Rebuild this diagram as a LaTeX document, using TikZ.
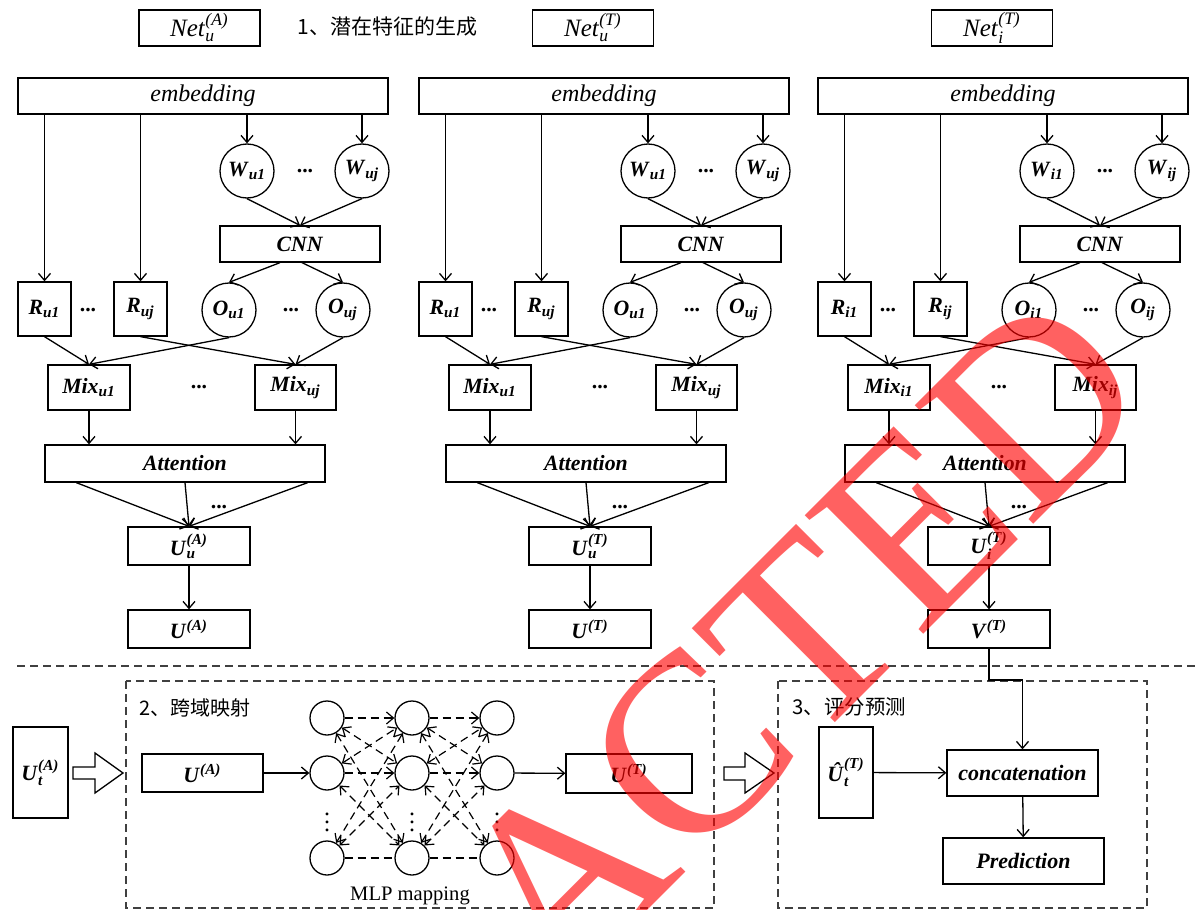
\documentclass[tikz,border=0pt]{standalone}
\usepackage{fontspec}
\usepackage{amsmath}
\setmainfont{Liberation Serif}
\newfontfamily\cjk{Noto Sans CJK SC}
\usetikzlibrary{arrows.meta,calc}
\newcommand{\bi}[1]{\textbf{\textit{#1}}}
\newcommand{\sbi}[2]{\bi{#1}\textsubscript{\bi{#2}}}
\newcommand{\ssb}[3]{$\text{\bi{#1}}_{\text{\bi{#2}}}^{\text{\bi{#3}}}$}
\newcommand{\spb}[2]{$\text{\bi{#1}}^{\text{\bi{#2}}}$}
\newcommand{\ssi}[3]{$\text{\textit{#1}}_{\text{\textit{#2}}}^{\text{\textit{#3}}}$}
\newcommand{\lblf}{\fontsize{10.9}{12}\selectfont}
\newcommand{\embf}{\fontsize{12}{14}\selectfont\itshape}

\newcommand{\mkpanel}[5]{%
\begin{scope}[shift={(#1,0)}]
\node[box,sz={370}{36},font=\embf] (#2emb) at (203,96) {embedding};
\node[circ] (#2W1) at (247,171) {\sbi{W}{#31}};
\node[circ] (#2Wj) at (362,171) {\sbi{W}{#3j}};
\node[dots] (#2dW) at (305,171) {...};
\node[box,sz={160}{36}] (#2cnn) at (300,244) {\bi{CNN}};
\node[box,sz={53}{54}] (#2R1) at (44.5,309) {\sbi{R}{#31}};
\node[box,sz={53}{54}] (#2Rj) at (140.5,309) {\sbi{R}{#3j}};
\node[dots] (#2dR) at (88,310) {...};
\node[circ] (#2O1) at (229,310) {\sbi{O}{#31}};
\node[circ] (#2Oj) at (343,310) {\sbi{O}{#3j}};
\node[dots] (#2dO) at (291,310) {...};
\node[box,sz={82}{45}] (#2M1) at (89,387.5) {\sbi{Mix}{#31}};
\node[box,sz={81}{45}] (#2Mj) at (295.5,387.5) {\sbi{Mix}{#3j}};
\node[dots] (#2dM) at (199,387) {...};
\node[box,sz={280}{37}] (#2att) at (185,463.5) {\bi{Attention}};
\node[box,sz={122}{38}] (#2Uu) at (189,546) {#4};
\node[dots] (#2dA) at (219,507) {...};
\node[box,sz={122}{38}] (#2U) at (189,629) {#5};
\draw[arr] (#2R1.north |- #2emb.south) -- (#2R1.north);
\draw[arr] (#2Rj.north |- #2emb.south) -- (#2Rj.north);
\draw[arr] (#2W1.north |- #2emb.south) -- (#2W1.north);
\draw[arr] (#2Wj.north |- #2emb.south) -- (#2Wj.north);
\draw[arr] (#2W1.south) -- (#2cnn.north);
\draw[arr] (#2Wj.south) -- (#2cnn.north);
\draw[arr] ([xshift=-10pt]#2cnn.south) -- (#2O1.north);
\draw[arr] ([xshift=1pt]#2cnn.south) -- (#2Oj.north);
\draw[arr] (#2R1.south) -- (#2M1.north);
\draw[arr] (#2O1.south) -- (#2M1.north);
\draw[arr] (#2Rj.south) -- (#2Mj.north);
\draw[arr] (#2Oj.south) -- (#2Mj.north);
\draw[arr] (#2M1.south) -- (#2M1.south |- #2att.north);
\draw[arr] (#2Mj.south) -- (#2Mj.south |- #2att.north);
\draw[arr] ([xshift=16pt]#2att.south west) -- (#2Uu.north);
\draw[arr] (#2att.south) -- (#2Uu.north);
\draw[arr] ([xshift=-9pt]#2att.south east) -- (#2Uu.north);
\draw[arr] (#2Uu.south) -- (#2U.north);
\end{scope}}

\begin{document}
\begin{tikzpicture}[x=0.5pt,y=-0.5pt, line width=0.65pt,
  sz/.style 2 args={minimum width=#1*0.5pt, minimum height=#2*0.5pt},
  box/.style={draw, inner sep=0pt, font=\lblf},
  circ/.style={draw, circle, minimum size=27pt, inner sep=0pt, font=\lblf},
  mcirc/.style={draw, circle, minimum size=17pt, inner sep=0pt},
  dots/.style={inner sep=0pt, font=\lblf\bfseries},
  arr/.style={-{Straight Barb[length=3.5pt,width=6pt]}},
  arrb/.style={{Straight Barb[length=3.5pt,width=6pt]}-{Straight Barb[length=3.5pt,width=6pt]}},
  mdash/.style={dash pattern=on 4pt off 2.5pt, line width=0.6pt},
  dline/.style={draw=black!75, dash pattern=on 4pt off 2.5pt, line width=0.6pt}]
\useasboundingbox (0,0) rectangle (1195,910);

% top labels
\node[box,sz={121}{36},font=\fontsize{12.5}{14}\selectfont] (netA) at (199.5,28) {\ssi{Net}{u}{(A)}};
\node[box,sz={121}{36},font=\fontsize{12.5}{14}\selectfont] (netT) at (593,28) {\ssi{Net}{u}{(T)}};
\node[box,sz={121}{36},font=\fontsize{12.5}{14}\selectfont] (netI) at (992,28) {\ssi{Net}{i}{(T)}};
\node[anchor=west,inner sep=0pt,font=\cjk\fontsize{10.5}{14}\selectfont] (title1) at (297,27) {1、潜在特征的生成};

\mkpanel{0}{p1}{u}{\ssb{U}{u}{(A)}}{\spb{U}{(A)}}
\mkpanel{401}{p2}{u}{\ssb{U}{u}{(T)}}{\spb{U}{(T)}}
\mkpanel{800}{p3}{i}{\ssb{U}{i}{(T)}}{\spb{V}{(T)}}

% separator and frames
\draw[dline] (17,666) -- (1195,666);
\draw[dline] (126,681) rectangle (714,908);
\draw[dline] (778,681) rectangle (1147,908);

\node[anchor=west,inner sep=0pt,font=\cjk\fontsize{10}{12}\selectfont] (t2) at (139,708) {2、跨域映射};
\node[anchor=west,inner sep=0pt,font=\cjk\fontsize{10.2}{12}\selectfont] (t3) at (792,707) {3、评分预测};

% section 2
\node[box,sz={55}{91}] (Ut) at (40.5,772.5) {\ssb{U}{t}{(A)}};
\draw[fill=white] (73,767) -- (95,767) -- (95,753) -- (123,773) -- (95,793) -- (95,779) -- (73,779) -- cycle;
\node[box,sz={121}{38}] (UA2) at (202.5,773) {\spb{U}{(A)}};
\node[box,sz={126}{39}] (UT2) at (629,773.5) {\spb{U}{(T)}};
\foreach \c/\x in {1/327,2/412,3/497}{
  \foreach \r/\y in {1/718,2/773,4/858}{
    \node[mcirc] (m\c\r) at (\x,\y) {};
  }
  \node[inner sep=0pt,font=\fontsize{12}{12}\selectfont] (vd\c) at (\x,816) {$\boldsymbol{\vdots}$};
}
\foreach \a/\b in {1/2,2/3}{
  \draw[mdash,arr] (m\a1) -- (m\b1);
  \draw[mdash,arr] (m\a2) -- (m\b2);
  \draw[mdash] (m\a4) -- (m\b4);
  \foreach \p/\q in {1/2,1/4,2/1,2/4,4/1,4/2}{
    \draw[mdash,arrb] (m\a\p) -- (m\b\q);
  }
}
\draw[arr] (UA2) -- (m12);
\draw[arr] (m32) -- (UT2);
\node[font=\fontsize{10.3}{12}\selectfont,inner sep=0pt] (mlp) at (410,896) {MLP mapping};

% section 3
\draw[fill=white] (724,767) -- (745,767) -- (745,753) -- (774,773) -- (745,793) -- (745,780) -- (724,780) -- cycle;
\node[box,sz={54}{91}] (Uh) at (846,772.5) {\ssb{\^{U}}{t}{(T)}};
\node[box,sz={151}{46},font=\fontsize{11}{13}\selectfont] (concat) at (1022.5,773) {\bi{concatenation}};
\node[box,sz={161}{46},font=\fontsize{11}{13}\selectfont] (pred) at (1023.5,861) {\bi{Prediction}};
\coordinate (turn) at (989,680);
\draw[arr] (p3U.south) -- (p3U.south |- turn) -- (concat.north |- turn) -- (concat.north);
\draw[arr] (Uh) -- (concat);
\draw[arr] (concat) -- (pred);

% watermark
\node[rotate=45, text=red, text opacity=0.62, inner sep=0pt, anchor=base,
      font=\fontsize{128}{128}\selectfont] (wm) at (858,700) {ACTED};
\end{tikzpicture}
\end{document}
